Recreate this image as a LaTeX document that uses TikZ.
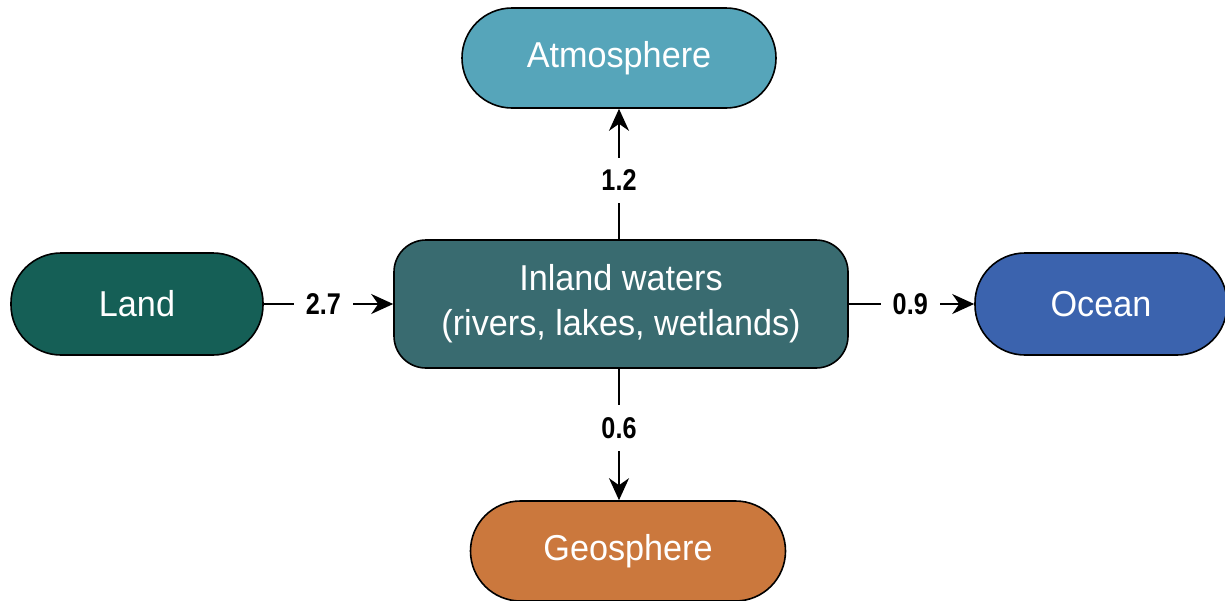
\documentclass[tikz,border=0pt]{standalone}
\usepackage{fontspec}
\setmainfont{Liberation Sans}
\newfontfamily\nodefont[FakeStretch=0.95]{Liberation Sans}
\newfontfamily\labfont[FakeStretch=0.84]{Liberation Sans Bold}
\usetikzlibrary{arrows.meta}
\definecolor{atmc}{HTML}{56A5BA}
\definecolor{landc}{HTML}{155F56}
\definecolor{inlc}{HTML}{396B70}
\definecolor{oceanc}{HTML}{3B63AE}
\definecolor{geoc}{HTML}{CB783D}
\tikzset{
  pill/.style={draw=black, line width=1.6pt, rounded corners=50pt, text=white,
    font=\nodefont\fontsize{36}{42}\selectfont, minimum height=100pt, inner sep=0pt},
  box/.style={draw=black, line width=1.6pt, rounded corners=32pt, text=white,
    font=\nodefont\fontsize{36}{45}\selectfont, align=center, minimum width=454pt, minimum height=128pt, inner sep=0pt},
  flow/.style={line width=2pt, -{Stealth[length=22pt,width=20pt,inset=7pt]}},
  lab/.style={fill=white, font=\labfont\fontsize{30}{32}\selectfont, inner xsep=12pt, inner ysep=12pt}
}
\begin{document}
\begin{tikzpicture}[x=1pt,y=-1pt]
\useasboundingbox (0,0) rectangle (1225,600);
\node[pill, fill=atmc, minimum width=314pt] (atm) at (619,58) {Atmosphere};
\node[pill, fill=landc, minimum width=252pt, minimum height=102pt] (land) at (137,304) {Land};
\node[box, fill=inlc] (inl) at (621,304) {Inland waters\\(rivers, lakes, wetlands)};
\node[pill, fill=oceanc, minimum width=252pt, minimum height=102pt] (ocean) at (1101,304) {Ocean};
\node[pill, fill=geoc, minimum width=315pt] (geo) at (628,551) {Geosphere};
\draw[flow] (land.east) -- node[lab, pos=0.46] (l1) {2.7} (land.east -| inl.west);
\draw[flow] (inl.east) -- node[lab, pos=0.49] (l2) {0.9} (inl.east -| ocean.west);
\draw[flow] (inl.north -| atm.south) -- node[lab, pos=0.45] (l3) {1.2} (atm.south);
\draw[flow] (inl.south -| 619,0) coordinate (gs) -- node[lab, pos=0.45] (l4) {0.6} (gs |- geo.north);
\end{tikzpicture}
\end{document}
